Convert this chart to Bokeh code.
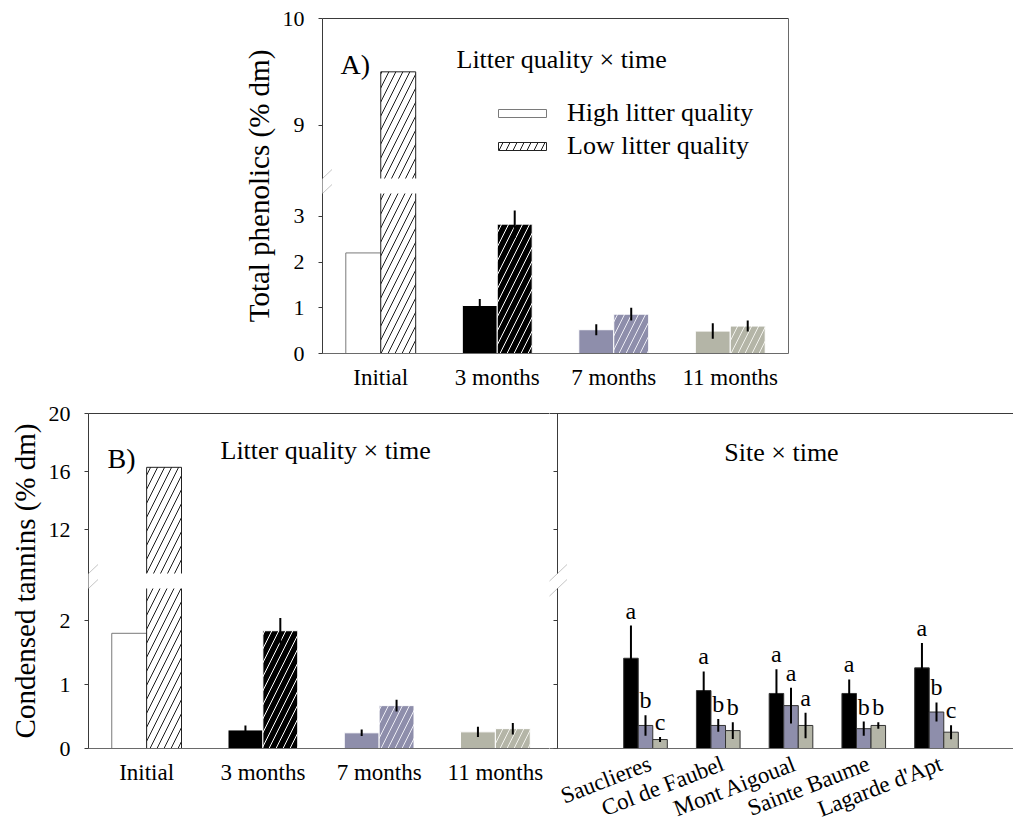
import math
from bokeh.plotting import figure
from bokeh.models import (ColumnDataSource, FactorRange, Range1d, LinearAxis, FixedTicker,
                          CustomJSTickFormatter, BoxAnnotation, PolyAnnotation, Label,
                          Legend, LegendItem)
from bokeh.layouts import column, row
from bokeh.transform import dodge
from bokeh.core.properties import value
from bokeh.embed import file_html
from bokeh.resources import INLINE

NAN = float("nan")

# ------------------------------------------------------------------ data
times = ["Initial", "3 months", "7 months", "11 months"]

# Panel A : total phenolics (% dm)
phen_high = [2.20, 1.05, 0.52, 0.49]
phen_high_se = [NAN, 0.14, 0.12, 0.17]
phen_low = [9.50, 2.83, 0.86, 0.60]
phen_low_se = [NAN, 0.30, 0.14, 0.12]
phen_ticks = [0, 1, 2, 3, 9, 10]
phen_tick_labels = ["0", "1", "2", "3", "9", "10"]
phen_break = (3.5, 8.5, 10.0)      # lower segment top, upper segment bottom, upper segment top

# Panel B : condensed tannins (% dm)
tan_high = [1.80, 0.29, 0.245, 0.26]
tan_high_se = [NAN, 0.07, 0.05, 0.08]
tan_low = [16.3, 1.84, 0.67, 0.31]
tan_low_se = [NAN, 0.20, 0.09, 0.09]
tan_ticks = [0, 1, 2, 12, 16, 20]
tan_tick_labels = ["0", "1", "2", "12", "16", "20"]
tan_break = (2.5, 9.0, 20.0)

# Panel B right : site x time
sites = ["Sauclieres", "Col de Faubel", "Mont Aigoual", "Sainte Baume", "Lagarde d'Apt"]
site_3m = [1.41, 0.905, 0.86, 0.86, 1.26]
site_3m_se = [0.51, 0.30, 0.38, 0.22, 0.39]
site_7m = [0.36, 0.36, 0.67, 0.31, 0.57]
site_7m_se = [0.16, 0.10, 0.28, 0.11, 0.15]
site_11m = [0.14, 0.28, 0.36, 0.36, 0.255]
site_11m_se = [0.04, 0.13, 0.20, 0.05, 0.11]
site_3m_letters = ["a", "a", "a", "a", "a"]
site_7m_letters = ["b", "b", "a", "b", "b"]
site_11m_letters = ["c", "b", "a", "b", "c"]

# ------------------------------------------------------------------ styles
FONT = "Liberation Serif"
TIME_FILL = ["white", "black", "#8e8eab", "#b4b5a7"]
HIGH_LINE = ["#7a7a7a", "white", "white", "white"]
LOW_LINE = ["#222222", "white", "white", "white"]
LOW_HATCH = ["#1a1a1a", "white", "#ececf4", "#f2f2ec"]
SITE_FILL = ["black", "#8e8eab", "#b4b5a7"]
AXIS_DARK = "#3a3a3a"
AXIS_GREY = "#6a6a6a"

SEG = 160.0            # pixel height of each y segment
GAP = 15.0             # pixel gap of the broken axis
Y_TOP = 2 * SEG + GAP
STRIP_H = 73           # height of the strip holding the slanted site names


def broken(v, brk):
    lo_top, hi_bot, hi_top = brk
    if v is None or (isinstance(v, float) and math.isnan(v)):
        return NAN
    if v <= lo_top:
        return v / lo_top * SEG
    return SEG + GAP + (v - hi_bot) / (hi_top - hi_bot) * SEG


def base_fig(width, height, x_range, mb_left, mb_right, mb_top, mb_bottom, y_range=None):
    p = figure(width=width, height=height, x_range=x_range,
               y_range=y_range if y_range is not None else Range1d(0, Y_TOP),
               output_backend="svg", toolbar_location=None,
               min_border_left=mb_left, min_border_right=mb_right,
               min_border_top=mb_top, min_border_bottom=mb_bottom,
               outline_line_color=None, background_fill_color="white",
               border_fill_color="white")
    p.xgrid.visible = False
    p.ygrid.visible = False
    return p


def border_axis(p, side, color):
    ax = LinearAxis(ticker=FixedTicker(ticks=[]), axis_line_color=color,
                    major_tick_line_color=None, minor_tick_line_color=None,
                    major_tick_out=0, major_tick_in=0, major_label_standoff=0)
    p.add_layout(ax, side)


def style_y_axis(ax, ticks, labels, brk, title, show_labels=True):
    pos = [broken(t, brk) for t in ticks]
    ax.ticker = FixedTicker(ticks=pos)
    if show_labels:
        ax.formatter = CustomJSTickFormatter(args=dict(pos=pos, labels=labels), code="""
            let best = 0;
            for (let i = 0; i < pos.length; i++) {
                if (Math.abs(pos[i] - tick) < Math.abs(pos[best] - tick)) best = i;
            }
            return labels[best];""")
        ax.major_label_standoff = 14
    else:
        ax.formatter = CustomJSTickFormatter(code="return '';")
        ax.major_label_standoff = 0
    ax.axis_line_color = AXIS_DARK
    ax.major_tick_line_color = AXIS_DARK
    ax.major_tick_out = 4
    ax.major_tick_in = 0
    ax.minor_tick_line_color = None
    ax.major_label_text_font = FONT
    ax.major_label_text_font_size = "22px"
    ax.major_label_text_color = "black"
    if title:
        ax.axis_label = title
        ax.axis_label_text_font = FONT
        ax.axis_label_text_font_size = "29px"
        ax.axis_label_text_font_style = "normal"
        ax.axis_label_text_color = "black"
        ax.axis_label_standoff = 5


def style_x_axis(ax, size, standoff):
    ax.axis_line_color = AXIS_GREY
    ax.major_tick_line_color = None
    ax.minor_tick_line_color = None
    ax.major_tick_out = 0
    ax.major_tick_in = 0
    ax.major_label_text_font = FONT
    ax.major_label_text_font_size = size
    ax.major_label_text_color = "black"
    ax.major_label_standoff = standoff


def add_break(p, cover_left, cover_right, ppx, axis_x):
    p.add_layout(BoxAnnotation(left=cover_left, right=cover_right,
                               bottom=SEG, top=SEG + GAP, fill_color="white", fill_alpha=1.0,
                               line_color=None, level="overlay"))
    for yc in (SEG, SEG + GAP):
        p.add_layout(PolyAnnotation(xs=[axis_x - 9.5 / ppx, axis_x + 9.5 / ppx],
                                    ys=[yc - 9.0, yc + 9.0], fill_color=None, fill_alpha=0,
                                    line_color=AXIS_DARK, line_width=1, level="overlay"))


def litter_panel(p, xcol, xvals, xrange_for_dodge, high, high_se, low, low_se, brk):
    def lo(v, e):
        return NAN if math.isnan(e) else broken(v - e, brk)

    def hi(v, e):
        return NAN if math.isnan(e) else broken(v + e, brk)

    src = ColumnDataSource({
        xcol: xvals,
        "high_top": [broken(v, brk) for v in high],
        "low_top": [broken(v, brk) for v in low],
        "high_lo": [lo(v, e) for v, e in zip(high, high_se)],
        "high_hi": [hi(v, e) for v, e in zip(high, high_se)],
        "low_lo": [lo(v, e) for v, e in zip(low, low_se)],
        "low_hi": [hi(v, e) for v, e in zip(low, low_se)],
        "fill": TIME_FILL, "high_line": HIGH_LINE, "low_line": LOW_LINE,
        "low_hatch": LOW_HATCH,
    })
    xh = dodge(xcol, -0.15, range=xrange_for_dodge)
    xl = dodge(xcol, 0.15, range=xrange_for_dodge)
    r_high = p.vbar(x=xh, top="high_top", bottom=0, width=0.3, source=src,
                    fill_color="fill", line_color="high_line", line_width=1)
    r_low = p.vbar(x=xl, top="low_top", bottom=0, width=0.3, source=src,
                   fill_color="fill", line_color="low_line", line_width=1,
                   hatch_pattern="/", hatch_color="low_hatch", hatch_scale=14, hatch_weight=1)
    p.segment(x0=xh, y0="high_lo", x1=xh, y1="high_hi", source=src,
              line_color="black", line_width=2)
    p.segment(x0=xl, y0="low_lo", x1=xl, y1="low_hi", source=src,
              line_color="black", line_width=2)
    return r_high, r_low


# ------------------------------------------------------------------ panel A
A_FRAME_W = 466
pA = base_fig(322 + A_FRAME_W + 10, 395, FactorRange(factors=times), 322, 10, 18, 42)
rA_high, rA_low = litter_panel(pA, "time", times, pA.x_range,
                               phen_high, phen_high_se, phen_low, phen_low_se, phen_break)
style_y_axis(pA.left[0], phen_ticks, phen_tick_labels, phen_break, "Total phenolics (% dm)")
style_x_axis(pA.below[0], "23px", 11)
border_axis(pA, "above", AXIS_DARK)
border_axis(pA, "right", AXIS_GREY)
ppxA = A_FRAME_W / len(times)
add_break(pA, -7.0 / ppxA, len(times) - 2.0 / ppxA, ppxA, 0.0)

pA.add_layout(Label(x=18 / ppxA, y=289, text="A)", text_font=FONT, text_font_size="28px",
                    text_baseline="alphabetic", text_align="left", text_color="black"))
pA.add_layout(Label(x=134 / ppxA, y=294, text="Litter quality \u00d7 time", text_font=FONT,
                    text_font_size="26px", text_baseline="alphabetic", text_align="left",
                    text_color="black"))
legA = Legend(items=[LegendItem(label="High litter quality", renderers=[rA_high], index=0),
                     LegendItem(label="Low litter quality", renderers=[rA_low], index=0)],
              location=(170, 192), glyph_width=60, glyph_height=10, label_standoff=15,
              label_text_font=FONT, label_text_font_size="26px", label_text_color="black",
              padding=0, spacing=3, border_line_color=None, background_fill_alpha=0, margin=0)
pA.add_layout(legA)

# ------------------------------------------------------------------ panel B left
CAT_PX_B = 116.25
BL_FRAME_W = 461
BR_TOTAL_H = 18 + int(Y_TOP) + 1
time_pos = [i + 0.5 for i in range(len(times))]
pBL = base_fig(88 + BL_FRAME_W, BR_TOTAL_H + STRIP_H, Range1d(0, BL_FRAME_W / CAT_PX_B),
               88, 0, 18, BR_TOTAL_H + STRIP_H - 18 - int(Y_TOP))
litter_panel(pBL, "tpos", time_pos, None,
             tan_high, tan_high_se, tan_low, tan_low_se, tan_break)
style_y_axis(pBL.left[0], tan_ticks, tan_tick_labels, tan_break, "Condensed tannins (% dm)")
bx = pBL.below[0]
bx.ticker = FixedTicker(ticks=time_pos)
bx.major_label_overrides = {t: name for t, name in zip(time_pos, times)}
style_x_axis(bx, "23px", 11)
border_axis(pBL, "above", AXIS_DARK)
add_break(pBL, -7.0 / CAT_PX_B, BL_FRAME_W / CAT_PX_B, CAT_PX_B, 0.0)
pBL.add_layout(Label(x=19 / CAT_PX_B, y=290, text="B)", text_font=FONT, text_font_size="28px",
                     text_baseline="alphabetic", text_align="left", text_color="black"))
pBL.add_layout(Label(x=132 / CAT_PX_B, y=298, text="Litter quality \u00d7 time",
                     text_font=FONT, text_font_size="26px", text_baseline="alphabetic",
                     text_align="left", text_color="black"))

# ------------------------------------------------------------------ panel B right
BR_FRAME_W = 464
SITE_PX = 72.75
x0 = -96.0 / SITE_PX            # frame left edge (site 0 centre is 96 px to the right)
x_axis = -88.0 / SITE_PX        # where the right panel's y axis sits
x1 = x0 + BR_FRAME_W / SITE_PX
pBR = base_fig(BR_FRAME_W, BR_TOTAL_H, Range1d(x0, x1), 0, 0, 18, 1)
pBR.left[0].visible = False
yax = LinearAxis(fixed_location=x_axis)
pBR.add_layout(yax, "right")
style_y_axis(yax, tan_ticks, tan_tick_labels, tan_break, None, show_labels=False)
yax.major_tick_out = 0
yax.major_tick_in = 4
xa = pBR.below[0]
xa.ticker = FixedTicker(ticks=[])
style_x_axis(xa, "24px", 0)
border_axis(pBR, "above", AXIS_DARK)

site_series = [
    (-0.2, site_3m, site_3m_se, site_3m_letters, SITE_FILL[0]),
    (0.0, site_7m, site_7m_se, site_7m_letters, SITE_FILL[1]),
    (0.2, site_11m, site_11m_se, site_11m_letters, SITE_FILL[2]),
]
for off, vals, ses, letters, color in site_series:
    src = ColumnDataSource(dict(
        site_idx=list(range(len(sites))),
        top=[broken(v, tan_break) for v in vals],
        lo=[broken(v - e, tan_break) for v, e in zip(vals, ses)],
        hi=[broken(v + e, tan_break) for v, e in zip(vals, ses)],
        lab_y=[broken(v + e, tan_break) + 15 for v, e in zip(vals, ses)],
        letter=letters,
    ))
    xs = dodge("site_idx", off)
    pBR.vbar(x=xs, top="top", bottom=0, width=0.2, source=src, fill_color=color,
             line_color="#333333", line_width=1)
    pBR.segment(x0=xs, y0="lo", x1=xs, y1="hi", source=src, line_color="black", line_width=2)
    pBR.text(x=xs, y="lab_y", text="letter", source=src, text_align="center",
             text_baseline="middle", text_font=value(FONT), text_font_size=value("24px"),
             text_color="black")

add_break(pBR, x_axis - 7.0 / SITE_PX, x1, SITE_PX, x_axis)
pBR.add_layout(Label(x=x_axis + 224 / SITE_PX, y=296, text="Site \u00d7 time", text_font=FONT,
                     text_font_size="26px", text_baseline="alphabetic", text_align="center",
                     text_color="black"))

# strip under the right panel holding the slanted site names (shares the x scale)
pSite = base_fig(BR_FRAME_W, STRIP_H, pBR.x_range, 0, 0, 0, 0, y_range=Range1d(-STRIP_H, 0))
pSite.xaxis.visible = False
pSite.yaxis.visible = False
site_src = ColumnDataSource(dict(site_idx=list(range(len(sites))), site=sites,
                                 y=[-1.5] * len(sites)))
pSite.text(x="site_idx", y="y", text="site", source=site_src, angle=0.37,
           text_align="right", text_baseline="top", text_font=value(FONT),
           text_font_size=value("23px"), text_color="black")

layout = column(pA, row(pBL, column(pBR, pSite)))
open("out.html", "w").write(file_html(layout, INLINE, title="Litter phenolics and tannins"))
